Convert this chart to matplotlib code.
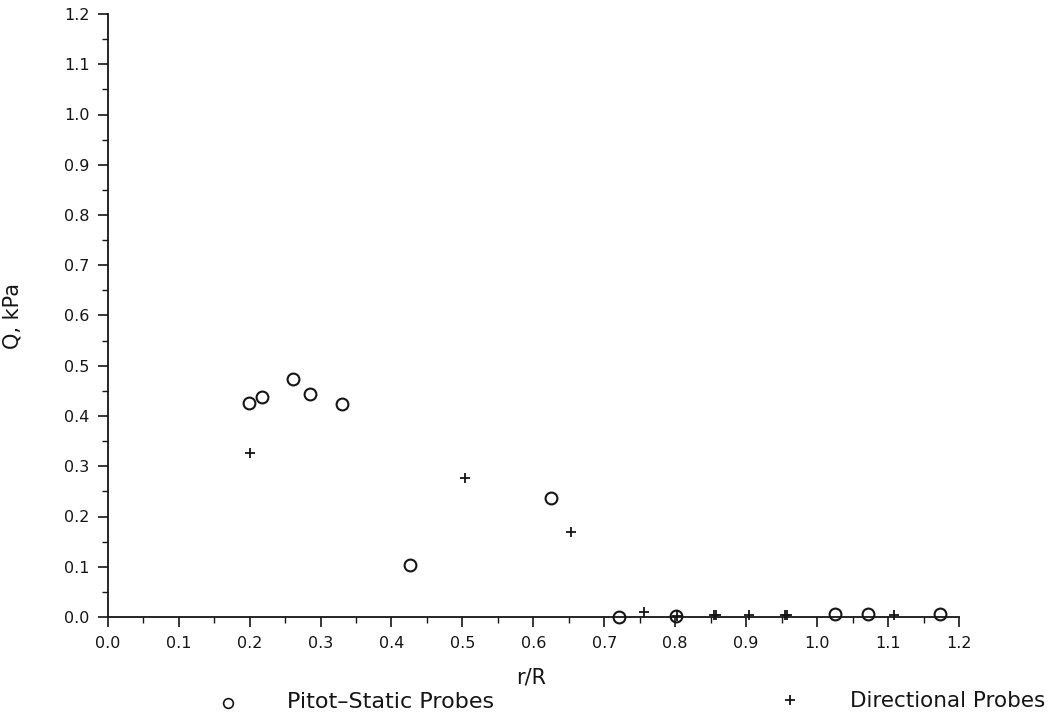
import numpy as np
import matplotlib
matplotlib.use("Agg")
import matplotlib.pyplot as plt
from matplotlib.lines import Line2D
from matplotlib.ticker import MultipleLocator, FormatStrFormatter

# Dynamic pressure versus radial station
pitot_r = [0.199, 0.218, 0.261, 0.285, 0.330, 0.426, 0.625, 0.721, 0.801, 1.025, 1.072, 1.173]
pitot_q = [0.426, 0.438, 0.473, 0.444, 0.423, 0.104, 0.237, 0.000, 0.001, 0.005, 0.005, 0.006]

directional_r = [0.201, 0.504, 0.653, 0.756, 0.802, 0.854, 0.857, 0.904, 0.955, 0.958, 1.109]
directional_q = [0.326, 0.276, 0.170, 0.010, 0.002, 0.004, 0.003, 0.003, 0.004, 0.003, 0.003]

x_label = "r/R"
y_label = "Q, kPa"
pitot_label = "Pitot\u2013Static Probes"
directional_label = "Directional Probes"

ink = "#151515"
plt.rcParams["font.family"] = ["DejaVu Sans"]

W, H = 1058, 716
fig = plt.figure(figsize=(W / 100, H / 100), dpi=100)
x0, x1, y0, y1 = 107.7, 959.0, 617.0, 14.0
ax = fig.add_axes([x0 / W, 1 - y0 / H, (x1 - x0) / W, (y0 - y1) / H])

ax.plot(pitot_r, pitot_q, linestyle="none", marker="o", markersize=8.5,
        markerfacecolor="none", markeredgecolor=ink, markeredgewidth=1.5, clip_on=False)
ax.plot(directional_r, directional_q, linestyle="none", marker="+", markersize=6.5,
        markeredgecolor=ink, markeredgewidth=1.3, clip_on=False)

ax.set_xlim(0, 1.2)
ax.set_ylim(0, 1.2)
for side in ("top", "right"):
    ax.spines[side].set_visible(False)
for side in ("left", "bottom"):
    ax.spines[side].set_color(ink)
    ax.spines[side].set_linewidth(1.3)

ax.xaxis.set_major_locator(MultipleLocator(0.1))
ax.xaxis.set_minor_locator(MultipleLocator(0.05))
ax.yaxis.set_major_locator(MultipleLocator(0.1))
ax.yaxis.set_minor_locator(MultipleLocator(0.05))
ax.xaxis.set_major_formatter(FormatStrFormatter("%.1f"))
ax.yaxis.set_major_formatter(FormatStrFormatter("%.1f"))
ax.tick_params(which="major", direction="out", length=7, width=1.2, color=ink,
               labelsize=11.5, labelcolor=ink)
ax.tick_params(which="minor", direction="out", length=4, width=1.0, color=ink)
ax.tick_params(axis="x", pad=7)
ax.tick_params(axis="y", pad=6)

ax.set_xlabel(x_label, fontsize=15, color=ink)
ax.xaxis.set_label_coords(0.497, -0.083)
ax.set_ylabel(y_label, fontsize=15, color=ink)
ax.yaxis.set_label_coords(-0.0995, 0.499)

# Key along the bottom edge
def fx(px):
    return px / W

def fy(py):
    return 1 - py / H

fig.add_artist(Line2D([fx(228)], [fy(703)], transform=fig.transFigure, linestyle="none",
                      marker="o", markersize=7, markerfacecolor="none",
                      markeredgecolor=ink, markeredgewidth=1.2))
fig.text(fx(287), fy(708), pitot_label, fontsize=16, color=ink, va="baseline", ha="left")
fig.add_artist(Line2D([fx(790)], [fy(700)], transform=fig.transFigure, linestyle="none",
                      marker="+", markersize=7, markeredgecolor=ink, markeredgewidth=1.3))
fig.text(fx(850), fy(707), directional_label, fontsize=15.5, color=ink, va="baseline", ha="left")

fig.savefig("out.png", dpi=100, facecolor="white")
